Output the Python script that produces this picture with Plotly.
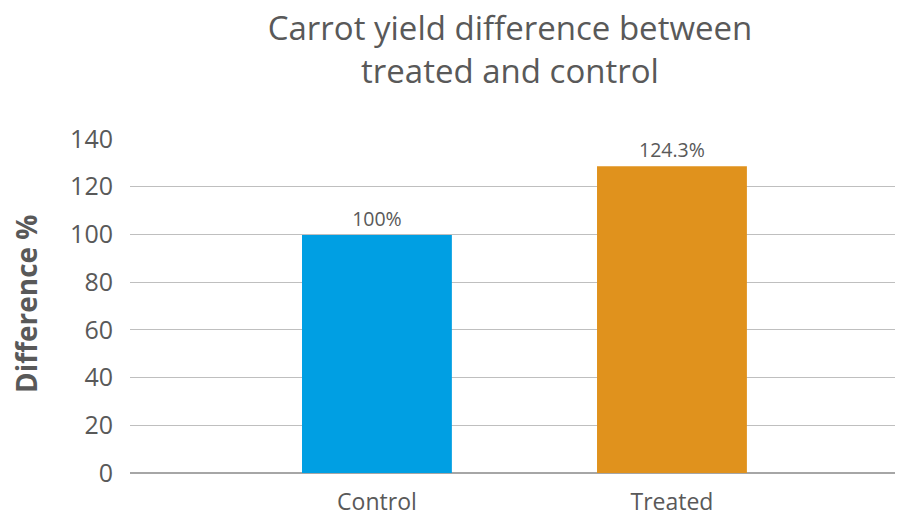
import plotly.graph_objects as go

categories = ["Control", "Treated"]
values = [99.8, 128.6]
value_labels = ["100%", "124.3%"]
colors = ["#009FE3", "#E0921D"]
y_ticks = [0, 20, 40, 60, 80, 100, 120, 140]

FONT = "'Open Sans', Roboto, sans-serif"
GRAY = "#595959"

fig = go.Figure()
fig.add_trace(go.Bar(
    x=[0, 1], y=values, marker=dict(color=colors, line=dict(width=0)),
    width=0.508, text=value_labels, textposition="outside",
    textfont=dict(size=19.5, color=GRAY, family=FONT), cliponaxis=False,
    hoverinfo="skip",
))

fig.update_layout(
    width=907, height=517,
    margin=dict(l=130, r=12, t=139, b=44, autoexpand=False),
    paper_bgcolor="white", plot_bgcolor="white",
    title=dict(text="Carrot yield difference between<br>treated and control",
               x=510 / 907, xanchor="center", xref="container",
               y=1 - 40 / 517, yanchor="middle", yref="container",
               font=dict(size=33, color=GRAY, family=FONT)),
    showlegend=False,
    xaxis=dict(range=[-0.837, 1.756], tickmode="array", tickvals=[0, 1],
               ticktext=categories, showgrid=False, zeroline=False,
               showline=False, ticks="", ticklabelstandoff=13,
               tickfont=dict(size=23, color=GRAY, family=FONT)),
    yaxis=dict(range=[0, 140], tickmode="array", tickvals=y_ticks,
               showgrid=True, gridcolor="#BFBFBF", gridwidth=1,
               zeroline=True, zerolinecolor="#A6A6A6", zerolinewidth=2,
               ticks="", ticklabelstandoff=16,
               tickfont=dict(size=25, color=GRAY, family=FONT)),
    annotations=[dict(text="<b>Difference %</b>", textangle=-90,
                      xref="paper", yref="paper",
                      x=(26 - 130) / 765, y=0.506,
                      xanchor="center", yanchor="middle", showarrow=False,
                      font=dict(size=28, color=GRAY, family=FONT))],
)

fig.write_html("out.html", post_script="document.body.style.margin='0';",
               config={"displayModeBar": False})
